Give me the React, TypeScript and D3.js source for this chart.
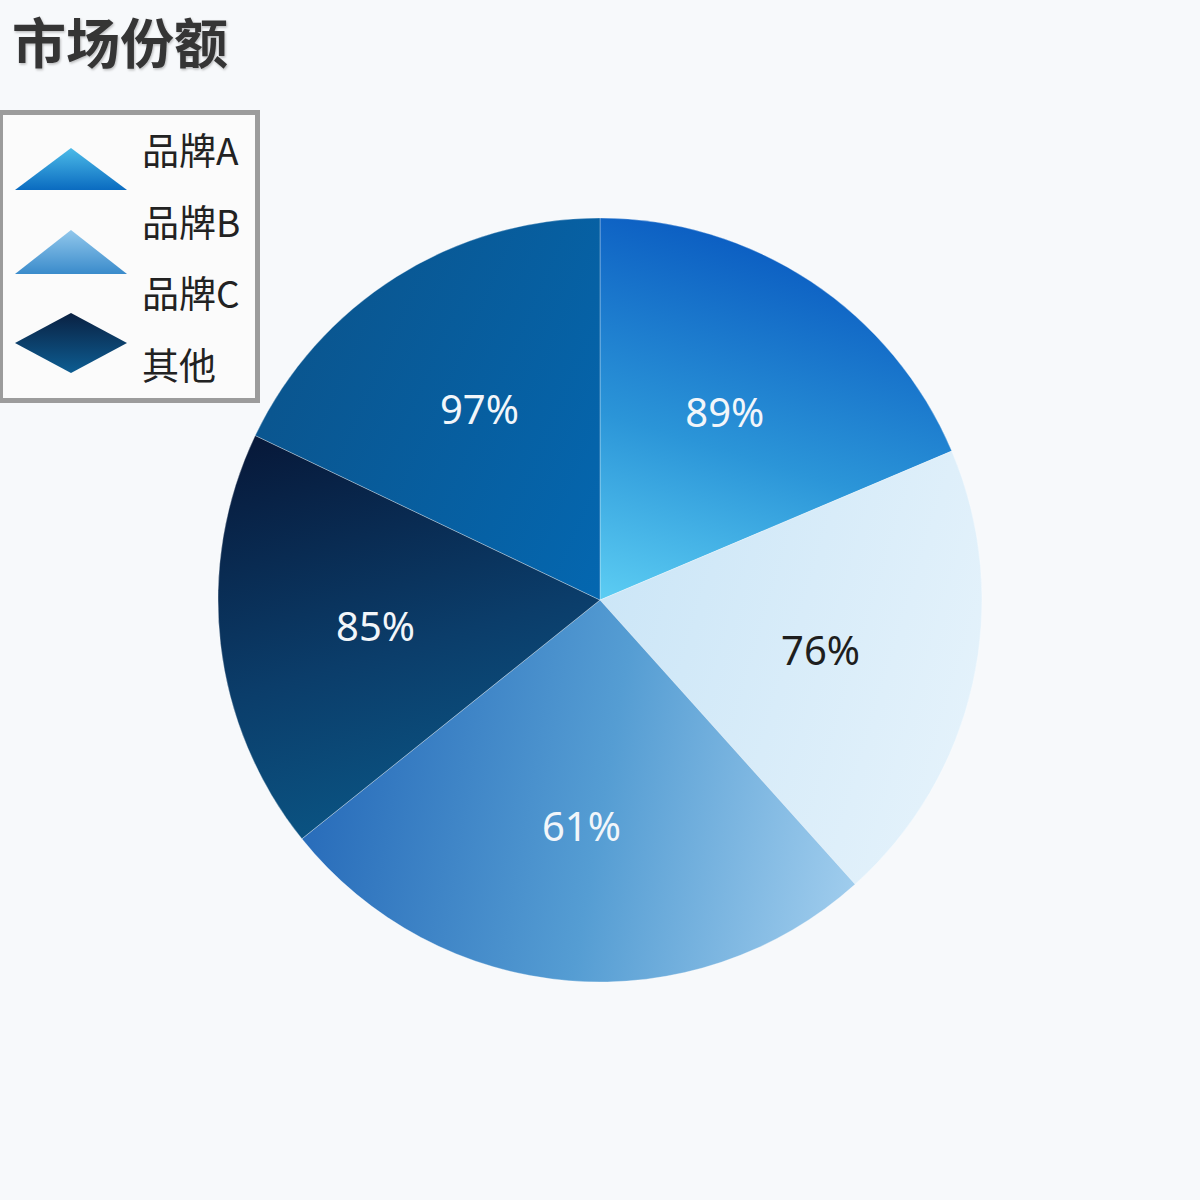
import React from "react";
import * as d3 from "d3";

// ---- data ----
const title = "市场份额";
const legendLabels = ["品牌A", "品牌B", "品牌C", "其他"];
// slice sizes as estimated from the angles in the picture (clockwise from 12 o'clock)
const sliceShares = [67.05, 71.05, 93.2, 64.2, 64.5];
const sliceLabels = ["89%", "76%", "61%", "85%", "97%"];
const labelColors = ["#f2f6fa", "#1e1e1e", "#f2f6fa", "#f2f6fa", "#f2f6fa"];

// ---- styles ----
const W = 1200;
const H = 1200;
const CX = 600;
const CY = 600;
const R = 382;
const LABEL_R = 226;

type Grad = { x1: number; y1: number; x2: number; y2: number; stops: [number, string][] };
const sliceGradients: Grad[] = [
  { x1: 0, y1: 0, x2: 0.3, y2: -1.0, stops: [[0, "#5ccdf3"], [0.45, "#2b95d8"], [1, "#0a5bc1"]] },
  { x1: 0, y1: 0, x2: 1, y2: 0.3, stops: [[0, "#cce6f7"], [1, "#e4f2fb"]] },
  { x1: -0.75, y1: 0.6, x2: 0.7, y2: 0.85, stops: [[0, "#2a6ebb"], [0.5, "#559dd3"], [1, "#a5d0ef"]] },
  { x1: -0.95, y1: -0.4, x2: -0.6, y2: 0.8, stops: [[0, "#07193a"], [0.5, "#0b3d6a"], [1, "#0a5e8e"]] },
  { x1: -0.9, y1: -0.4, x2: 0, y2: 0, stops: [[0, "#0a5690"], [1, "#0467b0"]] },
];

const legendGradients: Grad[] = [
  { x1: 0, y1: 0, x2: 0, y2: 1, stops: [[0, "#4cbbe8"], [1, "#0a6bc0"]] },
  { x1: 0, y1: 0, x2: 0, y2: 1, stops: [[0, "#92c8ec"], [1, "#3a8bcb"]] },
  { x1: 0, y1: 0, x2: 0, y2: 1, stops: [[0, "#0a2142"], [1, "#0d5d92"]] },
];

export default function App() {
  const pie = d3
    .pie<number>()
    .sort(null)
    .value((d) => d)
    .startAngle(0)
    .endAngle(2 * Math.PI);
  const arcs = pie(sliceShares);
  const arc = d3.arc<d3.PieArcDatum<number>>().innerRadius(0).outerRadius(R);
  const labelArc = d3.arc<d3.PieArcDatum<number>>().innerRadius(LABEL_R).outerRadius(LABEL_R);

  const legendTextY = [149, 221, 292, 364];
  const tri = (cx: number, top: number, bottom: number, hw: number) => {
    const p = d3.path();
    p.moveTo(cx, top);
    p.lineTo(cx + hw, bottom);
    p.lineTo(cx - hw, bottom);
    p.closePath();
    return p.toString();
  };
  const diamond = (cx: number, top: number, bottom: number, hw: number) => {
    const p = d3.path();
    const my = (top + bottom) / 2;
    p.moveTo(cx, top);
    p.lineTo(cx + hw, my);
    p.lineTo(cx, bottom);
    p.lineTo(cx - hw, my);
    p.closePath();
    return p.toString();
  };

  return (
    <svg
      width={W}
      height={H}
      viewBox={`0 0 ${W} ${H}`}
      style={{ position: "absolute", left: 0, top: 0, display: "block" }}
    >
      <defs>
        {sliceGradients.map((g, i) => (
          <linearGradient
            key={i}
            id={`slice${i}`}
            gradientUnits="userSpaceOnUse"
            x1={g.x1 * R}
            y1={g.y1 * R}
            x2={g.x2 * R}
            y2={g.y2 * R}
          >
            {g.stops.map(([o, c], j) => (
              <stop key={j} offset={o} stopColor={c} />
            ))}
          </linearGradient>
        ))}
        {legendGradients.map((g, i) => (
          <linearGradient key={i} id={`leg${i}`} x1={g.x1} y1={g.y1} x2={g.x2} y2={g.y2}>
            {g.stops.map(([o, c], j) => (
              <stop key={j} offset={o} stopColor={c} />
            ))}
          </linearGradient>
        ))}
        <filter id="tshadow" x="-10%" y="-20%" width="120%" height="140%">
          <feDropShadow dx="1" dy="1.5" stdDeviation="1" floodColor="#000" floodOpacity="0.25" />
        </filter>
      </defs>

      <rect x={0} y={0} width={W} height={H} fill="#f7f9fb" />

      {/* title */}
      <text
        x={12}
        y={40}
        dominantBaseline="central"
        fontFamily="'Noto Sans CJK SC', sans-serif"
        fontWeight={700}
        fontSize={54}
        fill="#363636"
        filter="url(#tshadow)"
      >
        {title}
      </text>

      {/* legend */}
      <rect x={0.5} y={112.5} width={257} height={288} fill="#fbfbfb" stroke="#9c9c9c" strokeWidth={5} />
      <path d={tri(71, 148, 190, 56)} fill="url(#leg0)" />
      <path d={tri(71, 230, 274, 56)} fill="url(#leg1)" />
      <path d={diamond(71, 313, 373, 56)} fill="url(#leg2)" />
      {legendLabels.map((l, i) => (
        <text
          key={l}
          x={142}
          y={legendTextY[i]}
          dominantBaseline="central"
          fontFamily="'Noto Sans CJK SC', sans-serif"
          fontSize={37}
          fill="#222"
        >
          {l}
        </text>
      ))}

      {/* pie */}
      <g transform={`translate(${CX},${CY})`}>
        {arcs.map((a, i) => (
          <path
            key={i}
            d={arc(a) || ""}
            fill={`url(#slice${i})`}
            stroke="rgba(255,255,255,0.3)"
            strokeWidth={1}
          />
        ))}
        {arcs.map((a, i) => {
          const [x, y] = labelArc.centroid(a);
          return (
            <text
              key={i}
              x={x}
              y={y}
              textAnchor="middle"
              dominantBaseline="central"
              fontFamily="'Noto Sans', sans-serif"
              fontSize={40}
              fill={labelColors[i]}
            >
              {sliceLabels[i]}
            </text>
          );
        })}
      </g>
    </svg>
  );
}
